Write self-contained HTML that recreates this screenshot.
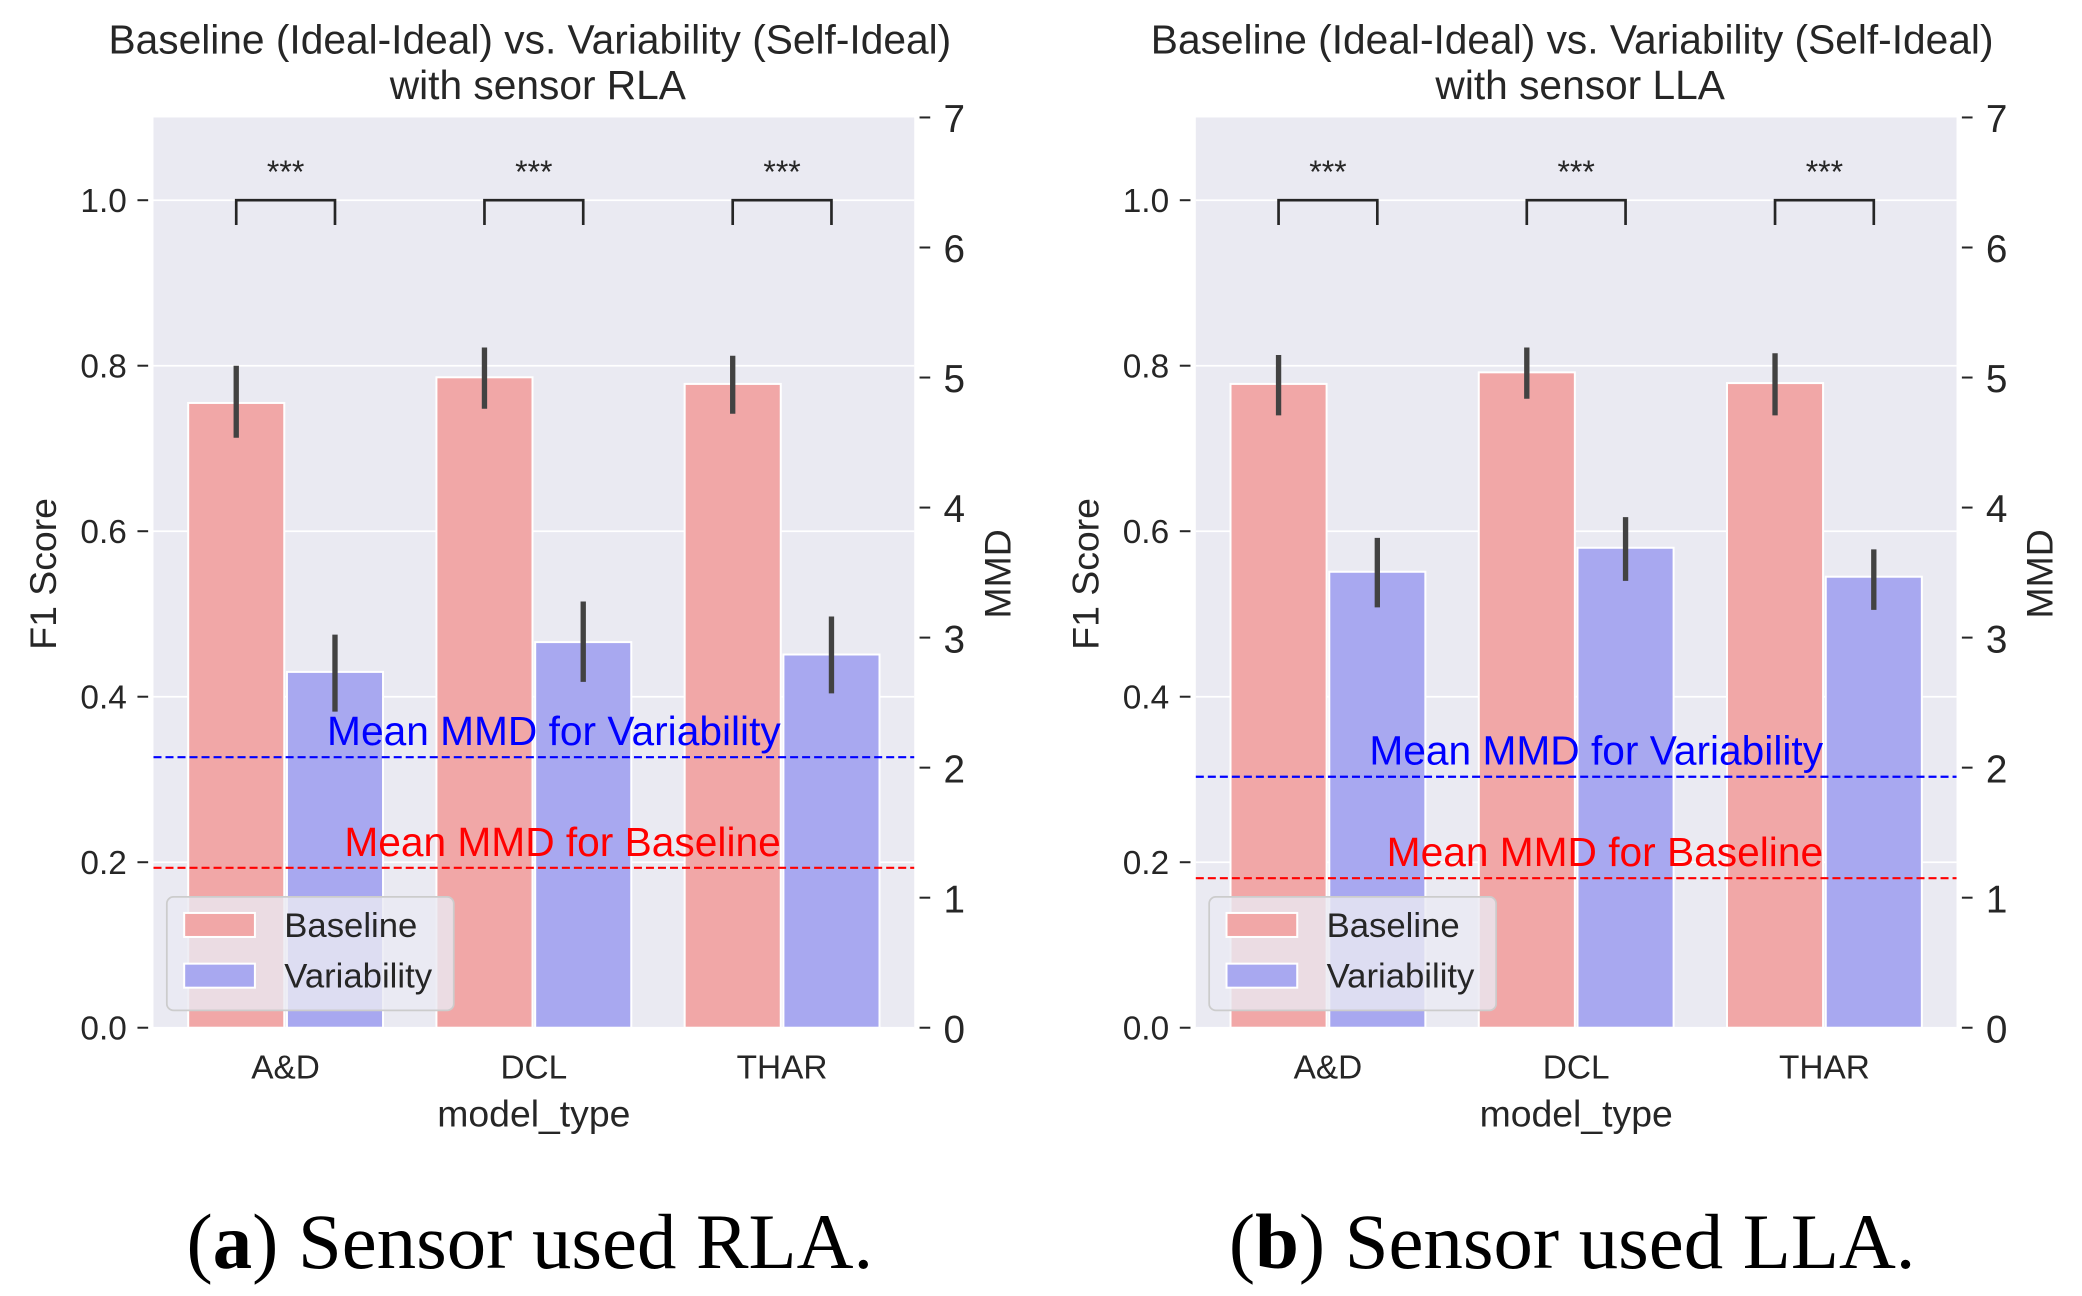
<!DOCTYPE html>
<html><head><meta charset="utf-8"><style>
html,body{margin:0;padding:0;background:#fff;}
svg{display:block;}
text{font-family:"Liberation Sans",sans-serif;fill:#262626;}
</style></head><body>
<svg id="fig" width="2082" height="1296" viewBox="0 0 1560 971" preserveAspectRatio="none" xmlns="http://www.w3.org/2000/svg"></svg>
<script>
const categories = ["A&D","DCL","THAR"];
const seriesNames = ["Baseline","Variability"];
const rlaBaseline = [0.755,0.786,0.778];
const rlaBaselineLo = [0.713,0.748,0.742];
const rlaBaselineHi = [0.800,0.822,0.812];
const rlaVariability = [0.430,0.466,0.451];
const rlaVariabilityLo = [0.382,0.418,0.404];
const rlaVariabilityHi = [0.475,0.515,0.497];
const rlaMmd = [1.23,2.08];
const llaBaseline = [0.778,0.792,0.779];
const llaBaselineLo = [0.740,0.760,0.740];
const llaBaselineHi = [0.813,0.822,0.815];
const llaVariability = [0.551,0.580,0.545];
const llaVariabilityLo = [0.508,0.540,0.505];
const llaVariabilityHi = [0.592,0.617,0.578];
const llaMmd = [1.15,1.93];
const f1Ticks = [0,0.2,0.4,0.6,0.8,1.0];
const mmdTicks = [0,1,2,3,4,5,6,7];

const NS="http://www.w3.org/2000/svg";
const svg=document.getElementById('fig');
function mk(tag,attrs,parent,txt){const e=document.createElementNS(NS,tag);for(const k in attrs)e.setAttribute(k,attrs[k]);if(txt!==undefined)e.textContent=txt;(parent||svg).appendChild(e);return e;}

function panel(ox,sensor,label,base,bLo,bHi,vari,vLo,vHi,mmd){
  const g=mk('g',{});
  
  
  const L=ox+115,R=ox+685,T=88,B=770;
  const y=v=>B-(v/1.1)*(B-T);
  const y2=v=>B-(v/7)*(B-T);
  const step=186;
  const x=i=>ox+400+step*(i-1);
  const bw=74;
  const bg=mk('rect',{x:L,y:T,width:R-L,height:B-T,fill:'#eaeaf2'},g);
  
  
  f1Ticks.forEach(t=>{
    mk('line',{x1:L,x2:R,y1:y(t),y2:y(t),stroke:'#fff','stroke-width':1.3},g);
    mk('line',{x1:L-12,x2:L-4,y1:y(t),y2:y(t),stroke:'#262626','stroke-width':1.5},g);
    const tl=mk('text',{x:L-20,y:y(t)+9,'text-anchor':'end','font-size':25},g,t.toFixed(1));
    
    
  });
  mmdTicks.forEach(t=>{
    mk('line',{x1:R+4,x2:R+12,y1:y2(t),y2:y2(t),stroke:'#262626','stroke-width':1.5},g);
    const tl=mk('text',{x:R+22,y:y2(t)+11,'font-size':29},g,String(t));
    
    
  });
  const cols=['#f1a7a7','#a8a8f0'];
  const vals=[base,vari],lo=[bLo,vLo],hi=[bHi,vHi];
  for(let s=0;s<2;s++){
    categories.forEach((c,i)=>{
      const cx=x(i)+(s===0?-bw/2:bw/2);
      const r=mk('rect',{x:cx-bw/2+1,y:y(vals[s][i]),width:bw-2,height:B-y(vals[s][i]),fill:cols[s],stroke:'#fff','stroke-width':1.5},g);
      
      
      const e=mk('line',{x1:cx,x2:cx,y1:y(lo[s][i]),y2:y(hi[s][i]),stroke:'#424242','stroke-width':4},g);
      
      
    });
  }
  categories.forEach((c,i)=>{
    const x1=x(i)-bw/2,x2=x(i)+bw/2;
    const br=mk('path',{d:`M${x1},${y(0.97)}V${y(1.0)}H${x2}V${y(0.97)}`,fill:'none',stroke:'#262626','stroke-width':2},g);
    
    
    const st=mk('text',{x:x(i),y:y(1.0)-13,'text-anchor':'middle','font-size':24},g,'***');
    
    
    const xl=mk('text',{x:x(i),y:B+38,'text-anchor':'middle','font-size':25},g,c);
    
    
  });
  const lc=['#ff0000','#0000ff'],lt=['Mean MMD for Baseline','Mean MMD for Variability'];
  for(let s=0;s<2;s++){
    const ln=mk('line',{x1:L,x2:R,y1:y2(mmd[s]),y2:y2(mmd[s]),stroke:lc[s],'stroke-width':1.6,'stroke-dasharray':'6,3'},g);
    
    
    const t=mk('text',{x:ox+585,y:y2(mmd[s])-9,'text-anchor':'end','font-size':30.5,style:'fill:'+lc[s]},g,lt[s]);
    
    
  }
  const lg=mk('g',{},g);
  
  
  mk('rect',{x:L+10,y:672,width:215,height:85,rx:5,fill:'#eaeaf2','fill-opacity':0.8,stroke:'#cccccc','stroke-width':1.3},lg);
  for(let s=0;s<2;s++){
    const yy=684+s*38;
    mk('rect',{x:L+23,y:yy,width:53,height:18,fill:cols[s],stroke:'#fff','stroke-width':1.5},lg);
    const t=mk('text',{x:L+98,y:yy+18,'font-size':26},lg,seriesNames[s]);
    
    
  }
  const t1=mk('text',{x:ox+397,y:40,'text-anchor':'middle','font-size':30.5},g,'Baseline (Ideal-Ideal) vs. Variability (Self-Ideal)');
  
  
  const t2=mk('text',{x:ox+403,y:74,'text-anchor':'middle','font-size':30.5},g,'with sensor '+sensor);
  
  
  const xt=mk('text',{x:ox+400,y:844,'text-anchor':'middle','font-size':28},g,'model_type');
  
  
  const yt=mk('text',{x:0,y:0,'text-anchor':'middle','font-size':28,transform:`translate(${ox+42},430) rotate(-90)`},g,'F1 Score');
  
  
  const y2t=mk('text',{x:0,y:0,'text-anchor':'middle','font-size':28,transform:`translate(${ox+757},430) rotate(-90)`},g,'MMD');
  
  
  const cap=mk('text',{x:ox+397,y:950,'text-anchor':'middle','font-size':59,style:'font-family:"Liberation Serif",serif;fill:#000'},g);
  
  
  mk('tspan',{},cap,'(');
  mk('tspan',{'font-weight':'bold'},cap,label);
  mk('tspan',{},cap,') Sensor used '+sensor+'.');
}
panel(0,'RLA','a',rlaBaseline,rlaBaselineLo,rlaBaselineHi,rlaVariability,rlaVariabilityLo,rlaVariabilityHi,rlaMmd);
panel(781,'LLA','b',llaBaseline,llaBaselineLo,llaBaselineHi,llaVariability,llaVariabilityLo,llaVariabilityHi,llaMmd);
</script>
</body></html>
